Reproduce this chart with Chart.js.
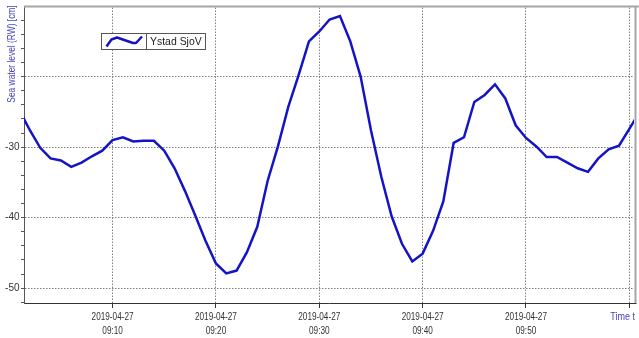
<!DOCTYPE html>
<html>
<head>
<meta charset="utf-8">
<script src="https://cdn.jsdelivr.net/npm/chart.js@4/dist/chart.umd.min.js"></script>
<style>
  html, body { margin: 0; padding: 0; background: #ffffff; }
  #wrap { width: 639px; height: 338px; position: relative; }
</style>
</head>
<body>
<div id="wrap"><canvas id="c" width="639" height="338"></canvas></div>
<script>
// ---- data (minutes after 09:00 on 2019-04-27) ----
const seriesName = 'Ystad SjoV';
const dateLabel = '2019-04-27';
const minutes = [1,2,3,4,5,6,7,8,9,10,11,12,13,14,15,16,17,18,19,20,
                 21,22,23,24,25,26,27,28,29,30,31,32,33,34,35,36,37,38,39,40,
                 41,42,43,44,45,46,47,48,49,50,51,52,53,54,55,56,57,58,59,60,61];
const seaLevel = [
  -24.8, -27.6, -30.1, -31.6, -31.9, -32.8, -32.2, -31.3, -30.5, -29.0,
  -28.6, -29.2, -29.1, -29.1, -30.5, -33.0, -36.2, -39.7, -43.3, -46.5,
  -47.9, -47.5, -44.9, -41.3, -34.8, -29.9, -24.3, -19.8, -15.0, -13.6,
  -11.9, -11.4, -15.0, -20.0, -27.6, -34.2, -39.8, -43.7, -46.2, -45.1,
  -41.9, -37.7, -29.4, -28.6, -23.6, -22.6, -21.1, -23.1, -26.9, -28.7,
  -29.9, -31.4, -31.4, -32.2, -33.0, -33.5, -31.6, -30.3, -29.8, -27.4, -25.0
];
const xTickValues = [10, 20, 30, 40, 50, 60];
const xTickLabels = ['09:10', '09:20', '09:30', '09:40', '09:50', '10:00'];
const yTickValues = [-52,-50,-48,-46,-44,-42,-40,-38,-36,-34,-32,-30,-28,-26,-24,-22,-20,-18,-16,-14,-12];
const yLabelled = [-50, -40, -30];
const yGridValues = [-50, -40, -30, -20];

const LINE_COLOR = '#1414c4';
const TITLE_COLOR = '#4444c4';
const SANS = "'Liberation Sans', Arial, sans-serif";

function narrowText(ctx, text, x, y, sx) {
  ctx.save();
  ctx.translate(x, y);
  ctx.scale(sx, 1);
  ctx.fillText(text, 0, 0);
  ctx.restore();
}

const decorPlugin = {
  id: 'decor',
  afterDraw(chart) {
    const ctx = chart.ctx;
    const a = chart.chartArea;
    const xs = chart.scales.x;
    ctx.save();
    // gray frame top and right
    ctx.strokeStyle = '#a6a6a6';
    ctx.lineWidth = 2;
    ctx.beginPath();
    ctx.moveTo(a.left, a.top - 1);
    ctx.lineTo(639, a.top - 1);
    ctx.moveTo(a.right + 1.5, a.top - 1);
    ctx.lineTo(a.right + 1.5, a.bottom);
    ctx.stroke();
    // bottom axis extension to the frame
    ctx.strokeStyle = '#333333';
    ctx.lineWidth = 1;
    ctx.beginPath();
    ctx.moveTo(a.right, a.bottom + 0.5);
    ctx.lineTo(a.right + 2.5, a.bottom + 0.5);
    ctx.stroke();

    // x tick labels (two lines, condensed)
    ctx.fillStyle = '#333333';
    ctx.font = '10px ' + SANS;
    ctx.textAlign = 'center';
    ctx.textBaseline = 'middle';
    xTickValues.forEach((v, i) => {
      if (i === xTickValues.length - 1) return;
      const px = xs.getPixelForValue(v);
      narrowText(ctx, dateLabel, px, 317, 0.82);
      narrowText(ctx, xTickLabels[i], px, 331, 0.82);
    });

    // y axis title (rotated, near top)
    ctx.save();
    ctx.translate(12, 54);
    ctx.rotate(-Math.PI / 2);
    ctx.fillStyle = TITLE_COLOR;
    ctx.font = '10px ' + SANS;
    ctx.textAlign = 'center';
    ctx.textBaseline = 'middle';
    ctx.scale(0.84, 1);
    ctx.fillText('Sea water level (RW) [cm]', 0, 0);
    ctx.restore();

    // x axis title
    ctx.fillStyle = TITLE_COLOR;
    ctx.font = '10px ' + SANS;
    ctx.textAlign = 'right';
    ctx.textBaseline = 'middle';
    narrowText(ctx, 'Time t', 635, 317, 0.9);

    // legend box
    const bx = 101.5, by = 33.5, bw = 104, bh = 16, div = 146.5;
    ctx.fillStyle = '#ffffff';
    ctx.fillRect(bx, by, bw, bh);
    ctx.strokeStyle = '#555555';
    ctx.lineWidth = 1;
    ctx.strokeRect(bx, by, bw, bh);
    ctx.beginPath();
    ctx.moveTo(div, by);
    ctx.lineTo(div, by + bh);
    ctx.stroke();
    ctx.strokeStyle = LINE_COLOR;
    ctx.lineWidth = 2.5;
    ctx.lineJoin = 'round';
    ctx.beginPath();
    ctx.moveTo(106.5, 46.5);
    ctx.lineTo(111.5, 39.5);
    ctx.lineTo(117, 37.5);
    ctx.lineTo(133, 43);
    ctx.lineTo(136, 43);
    ctx.lineTo(142, 36.5);
    ctx.stroke();
    ctx.fillStyle = '#222222';
    ctx.font = '11px ' + SANS;
    ctx.textAlign = 'left';
    ctx.textBaseline = 'middle';
    narrowText(ctx, chart.data.datasets[0].label, 150, 42, 0.95);
    ctx.restore();
  }
};

new Chart(document.getElementById('c'), {
  type: 'line',
  data: {
    datasets: [{
      label: seriesName,
      data: minutes.map((m, i) => ({ x: m, y: seaLevel[i] })),
      borderColor: LINE_COLOR,
      borderWidth: 2.5,
      pointRadius: 0,
      tension: 0,
      fill: false,
      clip: 0
    }]
  },
  options: {
    responsive: false,
    animation: false,
    layout: { padding: { top: 4, right: 5, left: 0, bottom: 0 } },
    plugins: { legend: { display: false }, tooltip: { enabled: false } },
    scales: {
      x: {
        type: 'linear',
        min: 1.43,
        max: 60.45,
        afterBuildTicks: s => { s.ticks = xTickValues.map(v => ({ value: v })); },
        afterFit: s => { s.height = 35; },
        border: { display: true, color: '#333333', width: 1, dash: [1.5, 1.5] },
        grid: {
          color: '#808080',
          lineWidth: 1,
          drawTicks: true,
          tickLength: 5,
          tickColor: '#333333',
          tickWidth: 1
        },
        ticks: { display: false, autoSkip: false, maxRotation: 0 }
      },
      y: {
        type: 'linear',
        min: -52.1,
        max: -10.2,
        afterBuildTicks: s => { s.ticks = yTickValues.map(v => ({ value: v })); },
        afterFit: s => { s.width = 24; },
        border: { display: true, color: '#555555', width: 1, dash: [1.5, 1.5] },
        grid: {
          color: ctx => (ctx.tick && yGridValues.includes(ctx.tick.value)) ? '#808080' : 'rgba(0,0,0,0)',
          lineWidth: 1,
          drawTicks: true,
          tickLength: 3,
          tickColor: '#555555',
          tickWidth: 1
        },
        ticks: {
          autoSkip: false,
          padding: 1.5,
          color: '#333333',
          font: { family: SANS, size: 10 },
          callback: (v) => yLabelled.includes(v) ? String(v) : ''
        }
      }
    }
  },
  plugins: [decorPlugin]
});
</script>
</body>
</html>
